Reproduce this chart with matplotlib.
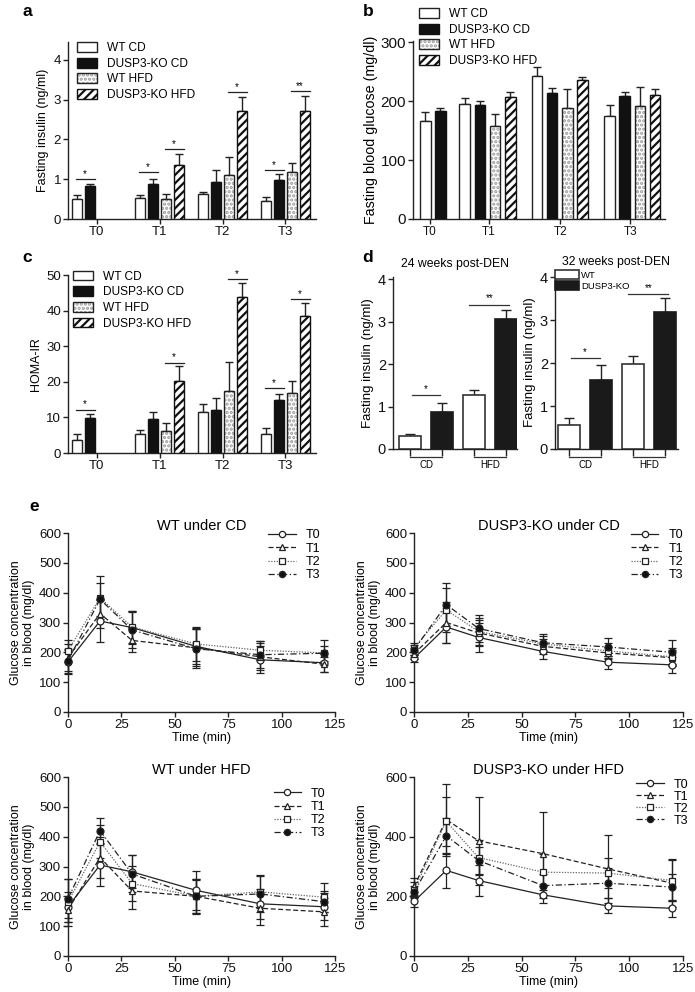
import numpy as np
import matplotlib
matplotlib.use("Agg")
import matplotlib.pyplot as plt
from matplotlib.patches import Patch
from matplotlib.lines import Line2D
from matplotlib.legend_handler import HandlerPatch
from matplotlib.transforms import blended_transform_factory

plt.rcParams['font.family'] = ['Liberation Sans', 'DejaVu Sans']
plt.rcParams['hatch.linewidth'] = 1.6
plt.rcParams['axes.linewidth'] = 1.0

# ---------------- data ----------------
timepoints = ["T0", "T1", "T2", "T3"]
groups4 = ["WT CD", "DUSP3-KO CD", "WT HFD", "DUSP3-KO HFD"]
nan = np.nan

# panel a: fasting insulin (ng/ml)
ins_mean = {
    "WT CD":        [0.51, 0.53, 0.63, 0.46],
    "DUSP3-KO CD":  [0.82, 0.88, 0.93, 0.99],
    "WT HFD":       [nan, 0.50, 1.11, 1.17],
    "DUSP3-KO HFD": [nan, 1.35, 2.71, 2.71],
}
ins_err = {
    "WT CD":        [0.10, 0.08, 0.05, 0.09],
    "DUSP3-KO CD":  [0.06, 0.13, 0.31, 0.15],
    "WT HFD":       [nan, 0.13, 0.44, 0.23],
    "DUSP3-KO HFD": [nan, 0.29, 0.35, 0.38],
}
# (timepoint index, bar1, bar2, y, label)
ins_sig = [(0, 0, 1, 1.00, "*"), (1, 0, 1, 1.17, "*"), (1, 2, 3, 1.76, "*"),
           (2, 2, 3, 3.19, "*"), (3, 0, 1, 1.24, "*"), (3, 2, 3, 3.21, "**")]

# panel b: fasting blood glucose (mg/dl)
glu_mean = {
    "WT CD":        [167, 195, 243, 174],
    "DUSP3-KO CD":  [184, 193, 213, 208],
    "WT HFD":       [nan, 157, 189, 192],
    "DUSP3-KO HFD": [nan, 207, 236, 211],
}
glu_err = {
    "WT CD":        [14, 10, 15, 19],
    "DUSP3-KO CD":  [5, 7, 9, 7],
    "WT HFD":       [nan, 21, 31, 32],
    "DUSP3-KO HFD": [nan, 8, 5, 9],
}

# panel c: HOMA-IR
homa_mean = {
    "WT CD":        [3.6, 5.4, 11.4, 5.4],
    "DUSP3-KO CD":  [9.7, 9.6, 12.0, 14.8],
    "WT HFD":       [nan, 6.3, 17.5, 16.9],
    "DUSP3-KO HFD": [nan, 20.1, 43.7, 38.6],
}
homa_err = {
    "WT CD":        [1.7, 1.0, 2.5, 1.7],
    "DUSP3-KO CD":  [1.2, 1.8, 3.5, 1.9],
    "WT HFD":       [nan, 2.0, 8.1, 3.2],
    "DUSP3-KO HFD": [nan, 4.3, 4.1, 3.6],
}
homa_sig = [(0, 0, 1, 12.2, "*"), (1, 2, 3, 25.4, "*"), (2, 2, 3, 48.8, "*"),
            (3, 0, 1, 18.3, "*"), (3, 2, 3, 43.2, "*")]

# panel d: fasting insulin post-DEN
d_diets = ["CD", "HFD"]
d_titles = ["24 weeks post-DEN", "32 weeks post-DEN"]
d24_wt = [0.31, 1.27]
d24_wt_err = [0.05, 0.12]
d24_ko = [0.88, 3.07]
d24_ko_err = [0.20, 0.20]
d32_wt = [0.57, 1.97]
d32_wt_err = [0.16, 0.19]
d32_ko = [1.61, 3.18]
d32_ko_err = [0.34, 0.34]
d24_sig = [(0, 1.27, "*"), (1, 3.40, "**")]
d32_sig = [(0, 2.11, "*"), (1, 3.60, "**")]

# panel e: glucose tolerance tests
time_min = [0, 15, 30, 60, 90, 120]
series_e = ["T0", "T1", "T2", "T3"]
wt_cd = {
    "T0": [168, 305, 283, 220, 175, 165],
    "T1": [182, 330, 240, 215, 185, 160],
    "T2": [205, 383, 285, 228, 207, 198],
    "T3": [172, 378, 275, 212, 192, 197],
}
wt_cd_err = {
    "T0": [40, 72, 55, 60, 45, 30],
    "T1": [45, 50, 38, 62, 45, 25],
    "T2": [38, 72, 55, 58, 32, 42],
    "T3": [40, 55, 60, 65, 45, 25],
}
ko_cd = {
    "T0": [180, 285, 250, 203, 167, 158],
    "T1": [195, 300, 265, 220, 198, 182],
    "T2": [215, 342, 270, 228, 205, 185],
    "T3": [208, 360, 280, 232, 218, 200],
}
ko_cd_err = {
    "T0": [12, 55, 48, 25, 22, 28],
    "T1": [18, 70, 45, 25, 20, 25],
    "T2": [15, 75, 45, 28, 25, 30],
    "T3": [18, 72, 45, 28, 30, 40],
}
wt_hfd = {
    "T0": [165, 305, 282, 220, 175, 165],
    "T1": [155, 330, 218, 200, 160, 148],
    "T2": [180, 383, 243, 200, 215, 197],
    "T3": [192, 420, 275, 200, 208, 182],
}
wt_hfd_err = {
    "T0": [50, 72, 55, 65, 50, 45],
    "T1": [40, 70, 62, 55, 55, 48],
    "T2": [78, 55, 60, 57, 55, 48],
    "T3": [65, 42, 62, 58, 60, 35],
}
ko_hfd = {
    "T0": [183, 287, 253, 205, 168, 160],
    "T1": [233, 457, 386, 343, 292, 244],
    "T2": [222, 451, 330, 281, 278, 253],
    "T3": [214, 403, 320, 236, 244, 231],
}
ko_hfd_err = {
    "T0": [18, 58, 52, 28, 25, 28],
    "T1": [30, 121, 147, 139, 115, 80],
    "T2": [25, 82, 60, 60, 50, 70],
    "T3": [20, 60, 45, 40, 50, 45],
}
e_titles = ["WT under CD", "DUSP3-KO under CD", "WT under HFD", "DUSP3-KO under HFD"]

# ---------------- styling helpers ----------------
W, H = 695, 992
fig = plt.figure(figsize=(W / 100, H / 100), dpi=100)

def add_ax(x0, y0, x1, y1):
    return fig.add_axes([x0 / W, 1 - y1 / H, (x1 - x0) / W, (y1 - y0) / H])

SPC = "#222222"
def style(ax, fs=9):
    for s in ("top", "right"):
        ax.spines[s].set_visible(False)
    for s in ("left", "bottom"):
        ax.spines[s].set_color(SPC)
    ax.tick_params(direction="out", length=3.5, width=1.0, colors=SPC,
                   labelsize=fs, labelcolor="#111111", pad=1.5)

bar_styles = [
    dict(facecolor="white", edgecolor="#222222", hatch=None, hcolor=None),
    dict(facecolor="#111111", edgecolor="#111111", hatch=None, hcolor=None),
    dict(facecolor="white", edgecolor="#222222", hatch="....", hcolor="#9a9a9a"),
    dict(facecolor="white", edgecolor="#111111", hatch="////", hcolor="#111111"),
]

def draw_bars(ax, xs, ys, bw, st):
    if st["hatch"]:
        ax.bar(xs, ys, width=bw, facecolor=st["facecolor"], edgecolor=st["hcolor"],
               hatch=st["hatch"], linewidth=0, zorder=3)
        ax.bar(xs, ys, width=bw, facecolor="none", edgecolor=st["edgecolor"],
               linewidth=1.0, zorder=4)
    else:
        ax.bar(xs, ys, width=bw, facecolor=st["facecolor"], edgecolor=st["edgecolor"],
               linewidth=1.0, zorder=3)

def grouped_bars(ax, means, errs, starts, slot_w=1.0, bw=0.75):
    pos = {}
    for gi, g in enumerate(groups4):
        m = np.array(means[g], dtype=float)
        e = np.array(errs[g], dtype=float)
        xs = np.array(starts) + gi * slot_w
        ok = ~np.isnan(m)
        ax.errorbar(xs[ok], m[ok], yerr=[np.zeros(ok.sum()), e[ok]], fmt="none",
                    ecolor="#222222", elinewidth=1.0, capsize=3, capthick=1.0, zorder=2)
        draw_bars(ax, xs[ok], m[ok], bw, bar_styles[gi])
        pos[gi] = xs
    return pos

def sig_brackets(ax, pos, sigs, fs=7):
    for (t, b1, b2, y, lab) in sigs:
        x1 = pos[b1][t] - 0.1
        x2 = pos[b2][t] + 0.35
        ax.plot([x1, x2], [y, y], color="#222222", lw=0.9)
        ax.text((x1 + x2) / 2, y, lab, ha="center", va="bottom", fontsize=fs)

class HatchHandler(HandlerPatch):
    def create_artists(self, legend, orig_handle, xdescent, ydescent, width, height,
                       fontsize, trans):
        st = orig_handle._st
        arts = []
        if st["hatch"]:
            p1 = Patch(facecolor=st["facecolor"], edgecolor=st["hcolor"], hatch=st["hatch"],
                       linewidth=0)
            self.update_prop(p1, orig_handle, legend)
            p1.set_xy = None
            r1 = matplotlib.patches.Rectangle((-xdescent, -ydescent), width, height,
                                              facecolor=st["facecolor"], edgecolor=st["hcolor"],
                                              hatch=st["hatch"], linewidth=0, transform=trans)
            r2 = matplotlib.patches.Rectangle((-xdescent, -ydescent), width, height,
                                              facecolor="none", edgecolor=st["edgecolor"],
                                              linewidth=1.0, transform=trans)
            arts = [r1, r2]
        else:
            r = matplotlib.patches.Rectangle((-xdescent, -ydescent), width, height,
                                             facecolor=st["facecolor"], edgecolor=st["edgecolor"],
                                             linewidth=1.0, transform=trans)
            arts = [r]
        return arts

def legend4(ax, anchor, fs=8.6):
    handles = []
    for s in bar_styles:
        p = Patch()
        p._st = s
        handles.append(p)
    ax.legend(handles, groups4, loc="upper left", bbox_to_anchor=anchor, frameon=False,
              fontsize=fs, handlelength=1.7, handleheight=0.9, handletextpad=0.8,
              labelspacing=0.3, borderpad=0, borderaxespad=0,
              handler_map={Patch: HatchHandler()})

# ---------------- panel a ----------------
ax = add_ax(68, 42, 316, 219)
style(ax, fs=9.5)
starts_ac = [0, 4.85, 9.7, 14.55]
pos = grouped_bars(ax, ins_mean, ins_err, starts_ac, bw=0.78)
sig_brackets(ax, pos, ins_sig)
ax.set_xlim(-0.7, 18.4)
ax.set_ylim(0, 4.45)
ax.set_yticks([0, 1, 2, 3, 4])
ax.set_xticks([s + 1.5 for s in starts_ac])
ax.set_xticklabels(timepoints)
ax.set_ylabel("Fasting insulin (ng/ml)", fontsize=9, labelpad=3)
legend4(ax, (0.035, 1.0))

# ---------------- panel b ----------------
ax = add_ax(413, 41, 665, 219)
style(ax, fs=11)
starts_b = [0, 2.6, 7.36, 12.15]
pos = grouped_bars(ax, glu_mean, glu_err, starts_b, bw=0.7)
ax.set_xlim(-0.81, 15.8)
ax.set_ylim(0, 302)
ax.set_yticks([0, 100, 200, 300])
ax.set_xticks([0.3, 4.2, 8.9, 13.5])
ax.set_xticklabels(timepoints, fontsize=8.5)
ax.set_ylabel("Fasting blood glucose (mg/dl)", fontsize=10.3, labelpad=2)
legend4(ax, (0.024, 1.185), fs=8.6)

# ---------------- panel c ----------------
ax = add_ax(68, 275, 316, 453)
style(ax, fs=9.5)
pos = grouped_bars(ax, homa_mean, homa_err, starts_ac, bw=0.78)
sig_brackets(ax, pos, homa_sig)
ax.set_xlim(-0.7, 18.4)
ax.set_ylim(0, 50)
ax.set_yticks([0, 10, 20, 30, 40, 50])
ax.set_xticks([s + 1.5 for s in starts_ac])
ax.set_xticklabels(timepoints)
ax.set_ylabel("HOMA-IR", fontsize=9, labelpad=3)
legend4(ax, (0.02, 1.025))

# ---------------- panel d ----------------
def panel_d(box, xlim, wt, wt_e, ko, ko_e, sigs, title, legend):
    ax = add_ax(*box)
    style(ax, fs=10.5)
    xs_wt = np.array([0, 2])
    xs_ko = np.array([1, 3])
    ax.errorbar(xs_wt, wt, yerr=[[0, 0], wt_e], fmt="none", ecolor="#222222",
                elinewidth=1.0, capsize=3.5, capthick=1.0, zorder=2)
    ax.errorbar(xs_ko, ko, yerr=[[0, 0], ko_e], fmt="none", ecolor="#222222",
                elinewidth=1.0, capsize=3.5, capthick=1.0, zorder=2)
    b1 = ax.bar(xs_wt, wt, width=0.69, facecolor="white", edgecolor="#333333", lw=1.2, zorder=3)
    b2 = ax.bar(xs_ko, ko, width=0.69, facecolor="#1a1a1a", edgecolor="#1a1a1a", lw=1.2, zorder=3)
    for (i, y, lab) in sigs:
        x1, x2 = 2 * i + 0.05, 2 * i + 0.95
        if i == 1:
            x1, x2 = 2 * i - 0.15, 2 * i + 1.1
        ax.plot([x1, x2], [y, y], color="#333333", lw=0.9)
        ax.text((x1 + x2) / 2, y + 0.03, lab, ha="center", va="bottom", fontsize=7)
    ax.set_xlim(*xlim)
    ax.set_ylim(0, 4.05)
    ax.set_yticks([0, 1, 2, 3, 4])
    ax.set_xticks([0, 1, 2, 3])
    ax.set_xticklabels([])
    ax.tick_params(axis="x", length=5)
    tr = blended_transform_factory(ax.transData, ax.transAxes)
    for i, diet in enumerate(d_diets):
        ax.plot([2 * i, 2 * i + 1], [-0.045, -0.045], transform=tr, color="#333333",
                lw=0.9, clip_on=False)
        ax.text(2 * i + 0.5, -0.065, diet, transform=tr, ha="center", va="top",
                fontsize=7)
    ax.set_ylabel("Fasting insulin (ng/ml)", fontsize=9.5, labelpad=3)
    ax.set_title(title, fontsize=8.8, pad=7)
    if legend:
        ax.legend([b1, b2], ["WT", "DUSP3-KO"], loc="upper left", bbox_to_anchor=(0.0, 1.03),
                  frameon=False, fontsize=6.8, handlelength=2.5, handleheight=1.2,
                  handletextpad=0.3, labelspacing=0.1, borderpad=0, borderaxespad=0)
    return ax

panel_d((393, 277, 517, 449), (-0.53, 3.34), d24_wt, d24_wt_err, d24_ko, d24_ko_err,
        d24_sig, d_titles[0], False)
panel_d((555, 275, 678, 449), (-0.44, 3.4), d32_wt, d32_wt_err, d32_ko, d32_ko_err,
        d32_sig, d_titles[1], True)

# ---------------- panel e ----------------
line_styles = {
    "T0": dict(ls="-", marker="o", mfc="white", color="#222222"),
    "T1": dict(ls=(0, (4, 2)), marker="^", mfc="white", color="#222222"),
    "T2": dict(ls=(0, (1, 1.2)), marker="s", mfc="white", color="#666666"),
    "T3": dict(ls=(0, (5, 2, 1, 2)), marker="o", mfc="#111111", color="#222222"),
}

def panel_e(box, data, errs, title, yticks, leg_anchor, leg_space):
    ax = add_ax(*box)
    style(ax, fs=9.5)
    for s in series_e:
        st = line_styles[s]
        ax.errorbar(time_min, data[s], yerr=errs[s], color=st["color"], ls=st["ls"], lw=0.9,
                    marker=st["marker"], mfc=st["mfc"], mec="#222222", ms=5, mew=0.9,
                    ecolor="#222222", elinewidth=0.9, capsize=3, capthick=0.9,
                    clip_on=False, label=s, zorder=3)
    ax.set_xlim(0, 125)
    ax.set_ylim(0, 600)
    ax.set_xticks([0, 25, 50, 75, 100, 125])
    ax.set_yticks(yticks)
    ax.set_xlabel("Time (min)", fontsize=9, labelpad=1)
    ax.set_ylabel("Glucose concentration\nin blood (mg/dl)", fontsize=9, labelpad=3,
                  linespacing=1.1)
    ax.set_title(title, fontsize=10.5, pad=2)
    handles = [Line2D([], [], color=line_styles[s]["color"], ls=line_styles[s]["ls"], lw=0.9,
                      marker=line_styles[s]["marker"], mfc=line_styles[s]["mfc"],
                      mec="#222222", ms=4.5, mew=0.9) for s in series_e]
    ax.legend(handles, series_e, loc="upper right", bbox_to_anchor=leg_anchor, frameon=False,
              fontsize=9, handlelength=2.2, handletextpad=0.8, labelspacing=leg_space,
              borderpad=0, borderaxespad=0)
    return ax

panel_e((68, 533, 335, 712), wt_cd, wt_cd_err, e_titles[0],
        [0, 100, 200, 300, 400, 500, 600], (0.945, 1.02), 0.1)
panel_e((414, 533, 683, 712), ko_cd, ko_cd_err, e_titles[1],
        [0, 100, 200, 300, 400, 500, 600], (1.0, 1.02), 0.1)
panel_e((68, 777, 335, 956), wt_hfd, wt_hfd_err, e_titles[2],
        [0, 100, 200, 300, 400, 500, 600], (0.965, 0.94), 0.1)
panel_e((414, 777, 683, 956), ko_hfd, ko_hfd_err, e_titles[3],
        [0, 200, 400, 600], (1.02, 0.99), 0.0)

# panel letters
for lab, x, y in [("a", 27, 12), ("b", 368, 12), ("c", 27, 257), ("d", 368, 257), ("e", 34, 506)]:
    fig.text(x / W, 1 - y / H, lab, fontsize=12.5, fontweight="bold", ha="center", va="center")

fig.savefig("out.png", dpi=100, facecolor="white")
